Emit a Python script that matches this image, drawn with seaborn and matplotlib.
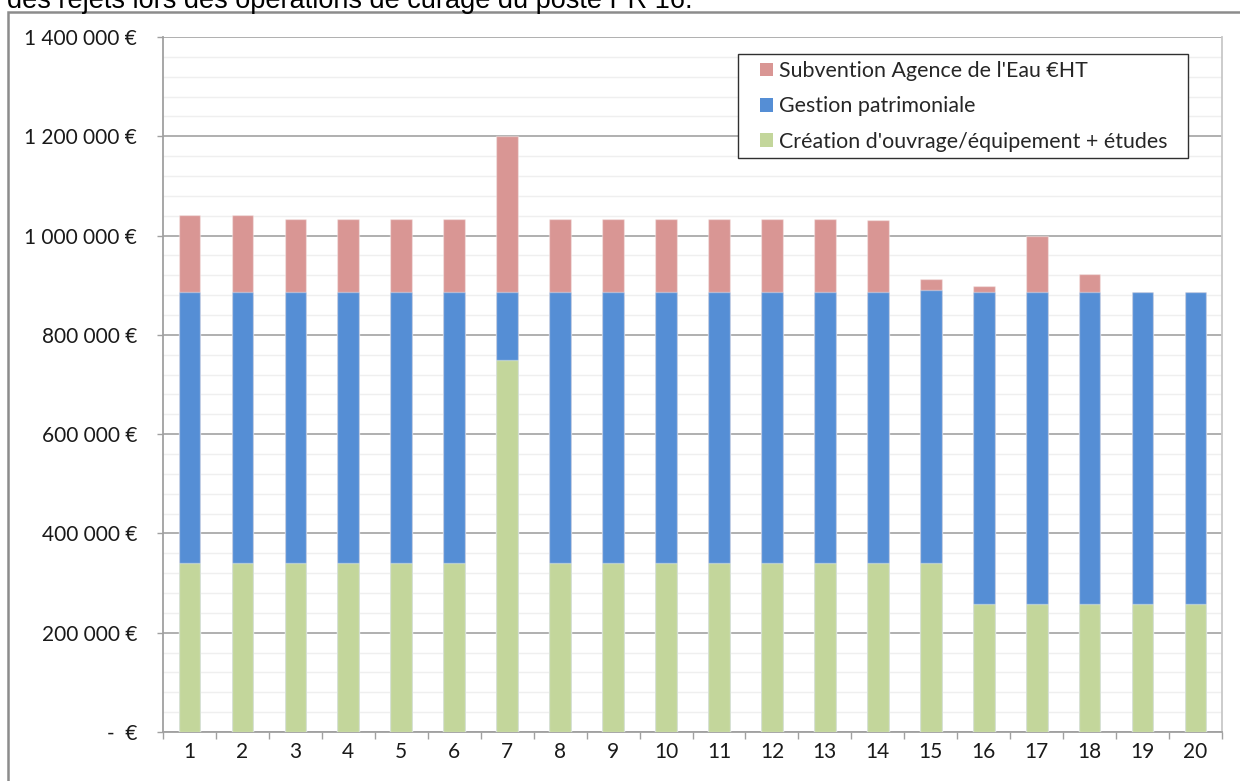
import numpy as np
import pandas as pd
import matplotlib
matplotlib.use("Agg")
import matplotlib.pyplot as plt
from matplotlib.patches import Patch, Rectangle
from matplotlib.ticker import FuncFormatter, MultipleLocator
import seaborn as sns

# Années du programme pluriannuel
annees = [str(i) for i in range(1, 21)]

# Montants par poste (€ HT)
creation = [340000] * 6 + [750000] + [340000] * 8 + [258000] * 5
gestion = [547000] * 6 + [137000] + [547000] * 7 + [550000] + [629000] * 5
subvention = [155000, 155000, 147000, 147000, 147000, 147000, 313000,
              147000, 147000, 147000, 147000, 147000, 147000, 145000,
              22000, 11000, 113000, 36000, 0, 0]

labels = ["Subvention Agence de l'Eau €HT",
          "Gestion patrimoniale",
          "Création d'ouvrage/équipement + études"]
couleurs = {"sub": "#D99694", "gest": "#558ED5", "crea": "#C3D69B"}

df = pd.DataFrame({"annee": annees, "crea": creation,
                   "gest": gestion, "sub": subvention})
df["niv_gest"] = df["crea"] + df["gest"]
df["niv_sub"] = df["niv_gest"] + df["sub"]

sns.set_theme(style="white")
plt.rcParams["font.family"] = ["Lato", "DejaVu Sans"]

W, H = 1240, 781
fig = plt.figure(figsize=(W / 100, H / 100), dpi=100)
ax = fig.add_axes([163 / W, 1 - 732 / H, (1222 - 163) / W, (732 - 37) / H])

largeur = 0.41
# Barres empilées : on trace les cumuls du plus haut au plus bas
for col, key in [("niv_sub", "sub"), ("niv_gest", "gest"), ("crea", "crea")]:
    sns.barplot(data=df, x="annee", y=col, color=couleurs[key], width=largeur,
                saturation=1, ax=ax, edgecolor=(1, 1, 1, 0.35), linewidth=1,
                zorder=3)

ax.set_xlim(-0.5, len(annees) - 0.5)
ax.set_ylim(0, 1400000)
ax.set_xlabel("")
ax.set_ylabel("")

# Quadrillage principal et secondaire
ax.yaxis.set_major_locator(MultipleLocator(200000))
ax.yaxis.set_minor_locator(MultipleLocator(40000))
ax.grid(axis="y", which="minor", color="#EFEFEF", linewidth=1.0, zorder=0)
ax.grid(axis="y", which="major", color="#A9A9A9", linewidth=1.3, zorder=1)
ax.set_axisbelow(True)


def euro(v, pos):
    if v == 0:
        return "-  €"
    return f"{int(v):,} €".replace(",", "\u202f")


ax.yaxis.set_major_formatter(FuncFormatter(euro))
ax.tick_params(axis="y", which="major", left=True, length=4.5, width=1,
               color="#A0A0A0", pad=14, labelsize=15, labelcolor="#1a1a1a")
ax.tick_params(axis="y", which="minor", left=False)

# Graduations de l'axe X entre les catégories
ax.set_xticks(np.arange(-0.5, len(annees), 1), minor=True)
ax.tick_params(axis="x", which="major", bottom=True, length=0, pad=7,
               labelsize=15, labelcolor="#1a1a1a")
ax.tick_params(axis="x", which="minor", bottom=True, length=5, width=1,
               color="#A0A0A0")

for side in ["left", "bottom"]:
    ax.spines[side].set_color("#A0A0A0")
    ax.spines[side].set_linewidth(1.3)
ax.spines["right"].set_color("#C8C8C8")
ax.spines["right"].set_linewidth(1.3)
ax.spines["top"].set_visible(False)

# Légende avec cadre rectangulaire
handles = [Patch(facecolor=couleurs["sub"], edgecolor="none"),
           Patch(facecolor=couleurs["gest"], edgecolor="none"),
           Patch(facecolor=couleurs["crea"], edgecolor="none")]
fig.patches.append(Rectangle((738 / W, 1 - 158 / H), 450 / W, 104 / H,
                             transform=fig.transFigure, facecolor="white",
                             edgecolor="#303030", linewidth=1.0, zorder=4))
leg = fig.legend(handles, labels, loc="upper left",
                 bbox_to_anchor=(760 / W, 1 - 61 / H), fontsize=15.4,
                 frameon=False, handlelength=0.62, handleheight=0.62,
                 handletextpad=0.25, labelspacing=0.72, borderpad=0,
                 borderaxespad=0)
leg.set_zorder(5)

# Cadre du graphique et fin de la légende du document
fig.patches.append(Rectangle((8 / W, -0.1), 1.2, 1.1 - 12 / H,
                             transform=fig.transFigure, fill=False,
                             edgecolor="#8C8C8C", linewidth=1.8))
fig.text(7 / W, 1 - 8 / H,
         "des rejets lors des opérations de curage du poste PR 16.",
         family="Liberation Sans", fontsize=19.5, va="baseline", ha="left",
         color="#000000")

fig.savefig("out.png", dpi=100)
